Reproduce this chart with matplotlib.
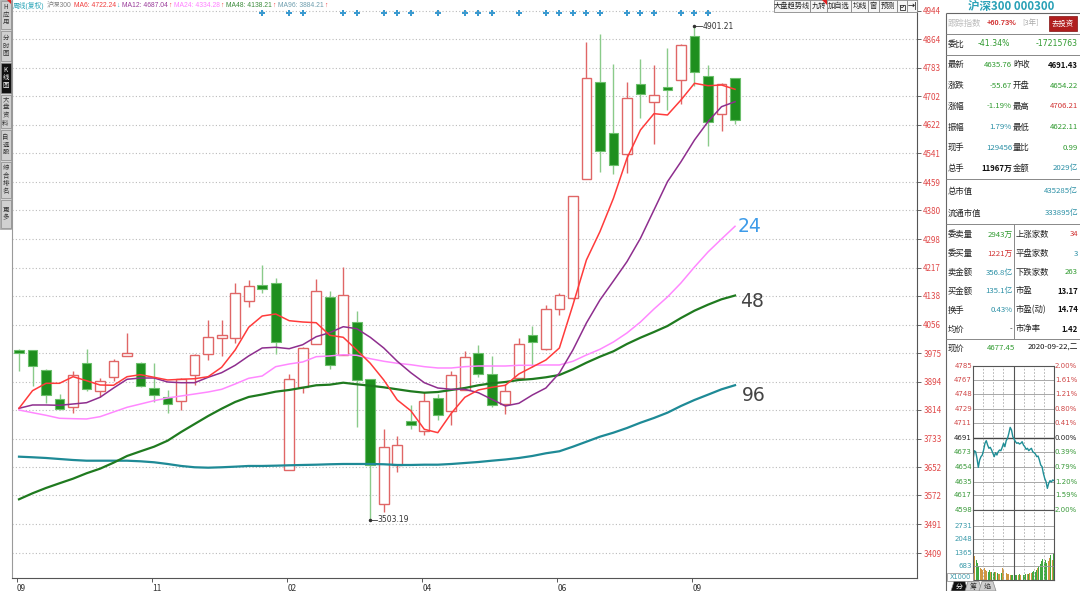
import matplotlib
matplotlib.use('Agg')
import matplotlib.pyplot as plt
from matplotlib.patches import Rectangle, Polygon, Arc
import numpy as np

plt.rcParams['font.family'] = ['Noto Sans CJK SC', 'DejaVu Sans']

# ---------------- data: 沪深300 weekly candles ----------------
opens  = [3984, 3984, 3927, 3844, 3822, 3946, 3867, 3907, 3967, 3948,
          3876, 3852, 3839, 3912, 3973, 4018, 4018, 4122, 4169, 4173,
          3644, 3878, 4001, 4133, 3971, 4063, 3901, 3548, 3659, 3782,
          3754, 3848, 3810, 3871, 3976, 3916, 3831, 3905, 4026, 3986,
          4099, 4130, 4468, 4744, 4598, 4538, 4738, 4685, 4729, 4749,
          4872, 4759, 4653, 4753]
highs  = [3987, 3984, 3931, 3859, 3924, 3986, 3905, 3958, 4033, 3950,
          3948, 3871, 3905, 3973, 4069, 4069, 4175, 4182, 4225, 4188,
          3916, 3993, 4184, 4150, 4218, 4094, 3901, 3759, 3740, 3827,
          3865, 3859, 3924, 3980, 3999, 3967, 3888, 4018, 4052, 4112,
          4145, 4421, 4857, 4880, 4793, 4742, 4808, 4791, 4840, 4851,
          4901.21, 4791, 4740, 4753]
lows   = [3925, 3883, 3835, 3815, 3806, 3867, 3850, 3897, 3967, 3878,
          3837, 3806, 3814, 3886, 3956, 3967, 4005, 4105, 4144, 3973,
          3644, 3863, 4001, 3931, 3971, 3767, 3503.19, 3525, 3638, 3761,
          3742, 3786, 3771, 3871, 3908, 3823, 3803, 3905, 3937, 3984,
          4084, 4128, 4468, 4489, 4482, 4485, 4640, 4568, 4664, 4681,
          4731, 4561, 4604, 4625]
closes = [3975, 3939, 3856, 3816, 3912, 3873, 3897, 3954, 3975, 3882,
          3856, 3831, 3903, 3969, 4020, 4026, 4146, 4165, 4158, 4007,
          3901, 3990, 4152, 3942, 4141, 3899, 3657, 3710, 3716, 3772,
          3840, 3799, 3914, 3965, 3916, 3827, 3867, 4001, 4007, 4101,
          4141, 4421, 4753, 4548, 4508, 4697, 4710, 4706, 4721, 4848,
          4772, 4630, 4738, 4635.76]

ma6 = [3818.8, 3868.7, 3889.6, 3889.6, 3908.3, 3897.0, 3884.8, 3884.0, 3908.3, 3914.0,
       3906.6, 3899.0, 3901.0, 3902.6, 3908.3, 3935.0, 3984.0, 4048.2, 4080.2, 4085.9,
       4066.9, 4063.2, 4061.2, 4025.6, 4019.9, 3984.0, 3946.3, 3899.0, 3842.4, 3812.0,
       3759.4, 3749.8, 3804.7, 3850.0, 3870.7, 3878.3, 3884.0, 3916.0, 3935.8, 3955.6,
       3989.6, 4111.4, 4238.8, 4319.0, 4413.6, 4526.8, 4607.0, 4653.2, 4649.5, 4692.0,
       4739.2, 4732.4, 4734.4, 4722.24]
ma12 = [3818.8, 3828.2, 3828.2, 3827.3, 3831.0, 3834.7, 3850.0, 3876.3, 3901.0, 3904.6,
        3904.6, 3893.3, 3891.3, 3891.3, 3906.6, 3919.7, 3940.6, 3967.0, 3989.6, 3991.6,
        3987.6, 3998.9, 4021.6, 4032.9, 4049.9, 4044.3, 4019.9, 3989.6, 3952.0, 3919.7,
        3891.3, 3876.3, 3872.6, 3872.6, 3863.0, 3844.3, 3825.4, 3833.0, 3856.5, 3876.3,
        3918.8, 3984.0, 4060.4, 4125.5, 4179.4, 4234.0, 4300.3, 4380.4, 4460.6, 4517.2,
        4578.7, 4630.5, 4673.0, 4687.04]
ma24 = [3814.0, 3806.4, 3799.0, 3790.5, 3789.4, 3788.6, 3795.1, 3808.4, 3821.7, 3831.0,
        3840.4, 3848.0, 3853.7, 3859.3, 3865.0, 3872.6, 3887.7, 3903.8, 3910.3, 3936.7,
        3944.3, 3950.0, 3965.0, 3967.0, 3970.6, 3968.9, 3959.3, 3952.0, 3946.3, 3942.3,
        3936.7, 3933.0, 3933.0, 3936.7, 3938.6, 3938.6, 3938.6, 3940.6, 3940.6, 3941.5,
        3941.5, 3952.0, 3969.8, 3985.9, 4006.6, 4032.1, 4063.2, 4100.0, 4134.1, 4173.7,
        4219.0, 4261.5, 4298.3, 4334.28]
ma48 = [3561.1, 3578.1, 3593.2, 3606.5, 3619.5, 3634.8, 3647.8, 3664.8, 3683.8, 3697.1,
        3710.1, 3727.1, 3751.7, 3774.4, 3797.0, 3817.7, 3836.7, 3850.9, 3857.9, 3865.9,
        3870.7, 3877.2, 3884.0, 3885.7, 3891.3, 3886.8, 3882.8, 3878.3, 3872.6, 3867.0,
        3863.0, 3865.0, 3870.7, 3876.3, 3884.0, 3889.6, 3893.3, 3899.0, 3901.8, 3906.6,
        3913.2, 3929.3, 3948.0, 3965.0, 3980.3, 4001.0, 4018.8, 4034.9, 4051.9, 4074.6,
        4095.3, 4112.3, 4127.5, 4138.21]
ma96 = [3681.8, 3680.1, 3678.1, 3675.2, 3672.4, 3670.4, 3670.4, 3670.4, 3670.4, 3668.7,
        3665.9, 3661.1, 3655.5, 3651.8, 3650.6, 3651.8, 3653.5, 3655.5, 3655.5, 3656.3,
        3657.4, 3658.3, 3659.1, 3660.3, 3661.1, 3661.1, 3661.1, 3660.3, 3658.3, 3658.3,
        3659.1, 3659.1, 3661.1, 3663.9, 3666.7, 3670.4, 3673.8, 3678.1, 3683.8, 3691.4,
        3697.1, 3710.1, 3724.2, 3738.4, 3749.8, 3763.0, 3778.0, 3791.4, 3806.4, 3825.4,
        3842.4, 3857.4, 3872.6, 3884.21]

signal_idx = [18, 20, 21, 24, 25, 27, 28, 29, 31, 33, 34, 35, 37, 39, 40, 41,
              42, 43, 45, 46, 47, 49, 50, 51]

y_ticks = [4944, 4864, 4783, 4702, 4622, 4541, 4459, 4380, 4298, 4217, 4138,
           4056, 3975, 3894, 3814, 3733, 3652, 3572, 3491, 3409]
month_labels = ['09', '11', '02', '04', '06', '09']
month_start = [0, 10, 20, 30, 40, 50]

# intraday (分时) data
intraday = [4662.9, 4675.0, 4673.7, 4665.1, 4653.4, 4662.9, 4667.3, 4669.4, 4675.9, 4684.6,
            4688.0, 4682.4, 4678.1, 4679.4, 4675.9, 4671.6, 4667.3, 4672.4, 4669.4, 4673.7,
            4675.9, 4675.0, 4679.4, 4684.6, 4680.2, 4688.0, 4691.1, 4697.6, 4705.3, 4701.9,
            4693.2, 4689.8, 4686.7, 4684.6, 4685.4, 4683.7, 4684.6, 4686.7, 4682.4, 4680.2,
            4676.8, 4678.1, 4675.0, 4676.8, 4678.1, 4673.7, 4672.4, 4670.7, 4667.3, 4668.1,
            4662.9, 4656.4, 4654.3, 4645.6, 4639.1, 4634.8, 4626.1, 4632.6, 4636.1, 4634.4,
            4637.0, 4636.1]
intraday_vol = [1450, 1200, 1000, 850, 700, 620, 560, 520, 600, 480,
                450, 420, 500, 380, 400, 360, 420, 380, 350, 320,
                300, 340, 600, 520, 400, 330, 280, 300, 260, 240,
                250, 230, 260, 240, 250, 280, 240, 230, 260, 250,
                300, 280, 320, 360, 340, 400, 450, 420, 520, 600,
                700, 800, 950, 1050, 900, 1000, 850, 950, 1100, 1250,
                1000, 1350]
mini_price_levels = [4785, 4767, 4748, 4729, 4711, 4691, 4673, 4654, 4635, 4617, 4598]
mini_pct_labels = ['2.00%', '1.61%', '1.21%', '0.80%', '0.41%', '0.00%',
                   '0.39%', '0.79%', '1.20%', '1.59%', '2.00%']
mini_vol_levels = [2731, 2048, 1365, 683]

legend_parts = [
    ('周线(复权)', '#2AA5B8', 2.5), ('沪深300', '#808080', 2.5),
    ('MA6: 4722.24', '#F03C3C', 0.3), ('↓', '#30B0C0', 2.5),
    ('MA12: 4687.04', '#9A3C9A', 0.3), ('↑', '#F03C3C', 2.5),
    ('MA24: 4334.28', '#FF7FFF', 0.3), ('↑', '#F03C3C', 2.5),
    ('MA48: 4138.21', '#3C8C3C', 0.3), ('↑', '#F03C3C', 2.5),
    ('MA96: 3884.21', '#6E9EAE', 0.3), ('↑', '#F03C3C', 2.5),
]

# ---------------- figure ----------------
W, H = 1080, 591
fig = plt.figure(figsize=(W / 100, H / 100), dpi=100)
fig.patch.set_facecolor('white')


def ax_px(l, t, r, b, **kw):
    return fig.add_axes([l / W, 1 - b / H, (r - l) / W, (b - t) / H], **kw)


RED_C = '#E06666'
GRN_F = '#1E8F1E'
GRN_E = '#6CBF6C'

# ---------------- main K-line axes ----------------
ax = ax_px(12, 0, 917, 578)
ax.set_xlim(-0.518, 66.47)
ax.set_ylim(3338.2, 4975.15)
ax.spines['top'].set_visible(False)
ax.spines['left'].set_color('#9a9a9a')
ax.spines['right'].set_color('#555555')
ax.spines['bottom'].set_color('#555555')
ax.yaxis.tick_right()
ax.set_yticks(y_ticks)
ax.set_yticklabels([str(v) for v in y_ticks])
ax.tick_params(axis='y', length=3, width=0.7, color='#666', labelsize=5.8,
               labelcolor='#E04848', pad=1.5)
ax.grid(axis='y', color='#bbbbbb', linestyle=(0, (1, 2)), lw=0.8)
xt = [max(m - 0.15, -0.5) for m in month_start]
ax.set_xticks(xt)
ax.set_xticklabels(month_labels, ha='left')
ax.tick_params(axis='x', length=3, width=0.7, color='#555', labelsize=6,
               labelcolor='#333', pad=1)

n = len(opens)
xs = np.arange(n)
for i in range(n):
    o, h, l, c = opens[i], highs[i], lows[i], closes[i]
    up = c >= o
    bottom = min(o, c)
    height = max(abs(c - o), 3.0)
    if up:
        ax.vlines(i, l, h, color=RED_C, lw=1.0, zorder=3)
        ax.add_patch(Rectangle((i - 0.36, bottom), 0.72, height, facecolor='white',
                               edgecolor=RED_C, lw=1.0, zorder=4))
    else:
        ax.vlines(i, l, h, color='#8ACB8A', lw=1.0, zorder=3)
        ax.add_patch(Rectangle((i - 0.36, bottom), 0.72, height, facecolor=GRN_F,
                               edgecolor=GRN_E, lw=0.8, zorder=4))

ax.plot(xs, ma96, color='#1E8A96', lw=1.6, zorder=5)
ax.plot(xs, ma48, color='#1F7A1F', lw=1.6, zorder=5)
ax.plot(xs, ma24, color='#FF88FF', lw=1.1, zorder=5)
ax.plot(xs, ma12, color='#8E2E8E', lw=1.1, zorder=6)
ax.plot(xs, ma6, color='#FF3B3B', lw=1.1, zorder=6)

ax.annotate('24', xy=(xs[-1], ma24[-1]), xytext=(2, 0), textcoords='offset points',
            color='#3D9BE9', fontsize=13.5, va='center', ha='left', family='DejaVu Sans')
ax.annotate('48', xy=(xs[-1], ma48[-1]), xytext=(3.5, -4.5), textcoords='offset points',
            color='#444444', fontsize=13.5, va='center', ha='left', family='DejaVu Sans')
ax.annotate('96', xy=(xs[-1], ma96[-1]), xytext=(5, -7.5), textcoords='offset points',
            color='#444444', fontsize=13.5, va='center', ha='left', family='DejaVu Sans')

# highest / lowest marks
hi_i = int(np.argmax(highs))
lo_i = int(np.argmin(lows))
ax.plot([hi_i, hi_i + 0.55], [highs[hi_i]] * 2, color='#333', lw=0.6, zorder=7)
ax.plot([hi_i], [highs[hi_i]], 'o', ms=1.5, color='#333', zorder=7)
ax.text(hi_i + 0.6, highs[hi_i], f'{highs[hi_i]:.2f}', fontsize=5.5, color='#333',
        va='center', ha='left', family='DejaVu Sans')
ax.plot([lo_i, lo_i + 0.5], [lows[lo_i]] * 2, color='#333', lw=0.6, zorder=7)
ax.plot([lo_i], [lows[lo_i]], 'o', ms=1.5, color='#333', zorder=7)
ax.text(lo_i + 0.55, lows[lo_i], f'{lows[lo_i]:.2f}', fontsize=5.5, color='#333',
        va='center', ha='left', family='DejaVu Sans')

# signal markers at top
ax.plot(signal_idx, [1 - 13 / 578] * len(signal_idx), 'P', ms=4.2, color='#3A9AD0',
        markeredgewidth=0, transform=ax.get_xaxis_transform(), clip_on=False, zorder=7)

# ---------------- mini intraday chart ----------------
ax2 = ax_px(973, 366, 1054, 510)
ax2.set_xlim(0, len(intraday) - 1)
ax2.set_ylim(min(mini_price_levels), max(mini_price_levels))
ax2.set_xticks([]); ax2.set_yticks([])
for s in ax2.spines.values():
    s.set_color('#555'); s.set_linewidth(0.8)
for lv in mini_price_levels:
    if lv == 4691:
        ax2.axhline(lv, color='#444', lw=1.0)
    else:
        ax2.axhline(lv, color='#9a9a9a', lw=0.6)
for k in range(1, 8):
    fx = (len(intraday) - 1) * k / 8
    if k == 4:
        ax2.axvline(fx, color='#555', lw=0.8)
    else:
        ax2.axvline(fx, color='#aaaaaa', lw=0.6, linestyle=(0, (2, 2)))
ax2.plot(np.arange(len(intraday)), intraday, color='#1F8E96', lw=1.0)
for lv, pl in zip(mini_price_levels, mini_pct_labels):
    col = '#D04848' if lv > 4691 else ('#222' if lv == 4691 else '#3A9A3A')
    ax2.text(-0.012, lv, str(lv), transform=ax2.get_yaxis_transform(), ha='right',
             va='center', fontsize=5, color=col, family='DejaVu Sans')
    ax2.text(1.012, lv, pl, transform=ax2.get_yaxis_transform(), ha='left',
             va='center', fontsize=5, color=col, family='DejaVu Sans')

ax3 = ax_px(973, 510, 1054, 580)
ax3.set_xlim(-0.5, len(intraday) - 0.5)
ax3.set_ylim(0, 3533)
ax3.set_xticks([]); ax3.set_yticks([])
for s in ax3.spines.values():
    s.set_color('#555'); s.set_linewidth(0.8)
for lv in mini_vol_levels:
    ax3.axhline(lv, color='#9a9a9a', lw=0.6)
    ax3.text(-0.012, lv, str(lv), transform=ax3.get_yaxis_transform(), ha='right',
             va='center', fontsize=5, color='#3A9AAA', family='DejaVu Sans')
for k in range(1, 8):
    fx = (len(intraday) - 0.5) * k / 8 - 0.25
    if k == 4:
        ax3.axvline(fx, color='#555', lw=0.8)
    else:
        ax3.axvline(fx, color='#aaaaaa', lw=0.6, linestyle=(0, (2, 2)))
vcols = ['#C8841E' if (i == 0 or intraday[i] >= intraday[i - 1]) else '#1E9A1E'
         for i in range(len(intraday))]
ax3.bar(np.arange(len(intraday_vol)), intraday_vol, width=0.75, color=vcols, alpha=0.85)

# ---------------- overlay (pixel coordinates) ----------------
ov = fig.add_axes([0, 0, 1, 1], zorder=20)
ov.set_xlim(0, W); ov.set_ylim(H, 0); ov.axis('off')
ov.patch.set_alpha(0)


def T(x, y, s, color='#222', size=6, ha='left', va='center', weight='normal', **kw):
    return ov.text(x, y, s, color=color, fontsize=size, ha=ha, va=va, fontweight=weight, **kw)


def L(xx, yy, color='#777', lw=0.8, **kw):
    ov.plot(xx, yy, color=color, lw=lw, solid_capstyle='butt', **kw)


# top legend line, laid out sequentially so nothing overlaps
renderer = fig.canvas.get_renderer()
xcur = 12.5
for s, c, gap in legend_parts:
    t = T(xcur, 5.5, s, color=c, size=4.9, family=['Liberation Sans', 'Noto Sans CJK SC'])
    bb = t.get_window_extent(renderer=renderer)
    xcur += bb.width + gap

# toolbar buttons (top right)
buttons = [('大盘趋势线', 774, 810), ('九转', 810, 827), ('加自选', 827, 851),
           ('均线', 851, 868), ('窗', 868, 879), ('预测', 879, 897), ('', 897, 907),
           ('→|', 907, 917)]
for lab, x0, x1 in buttons:
    ov.add_patch(Rectangle((x0, 0), x1 - x0, 11.5, facecolor='#F6F6F6',
                           edgecolor='#888', lw=0.6))
    if lab:
        T((x0 + x1) / 2, 6, lab, size=5.2, ha='center', color='#222',
          weight='bold' if lab == '→|' else 'normal')
ov.add_patch(Polygon([(822, 0), (827, 0), (827, 5)], closed=True, facecolor='#E02020'))
ov.add_patch(Rectangle((899.5, 5), 5, 4.5, facecolor='none', edgecolor='#333', lw=0.6))
ov.add_patch(Arc((902, 5), 3.5, 5, theta1=0, theta2=180, edgecolor='#333', lw=0.6))

# left toolbar
ov.add_patch(Rectangle((0, 0), 11, 229, facecolor='#D6D6D6', edgecolor='#999', lw=0.5))
tabs = [('H\n应\n用', 0, 29, False), ('分\n时\n图', 30, 61, False),
        ('K\n线\n图', 62, 93, True), ('大\n盘\n资\n料', 94, 128, False),
        ('自\n选\n股', 129, 160, False), ('综\n合\n排\n名', 161, 198, False),
        ('更\n多', 199, 228, False)]
for lab, y0, y1, sel in tabs:
    ov.add_patch(Rectangle((0.5, y0 + 0.5), 10, y1 - y0 - 1,
                           facecolor='#111' if sel else '#D0D0D0',
                           edgecolor='#888', lw=0.5))
    T(5.5, (y0 + y1) / 2, lab, size=4.6, ha='center', color='white' if sel else '#333',
      linespacing=0.95)
ov.add_patch(Polygon([(7, 0), (11, 0), (11, 4)], closed=True, facecolor='#E02020'))

# ---------------- right info panel ----------------
G = '#2F9A2F'; R = '#D23434'; C = '#2A8FA5'; K = '#111111'
T(1011, 6.5, '沪深300 000300', color='#2AA1B7', size=8.3, ha='center', weight='bold')
L([946, 946], [13, 591], color='#666')
L([946, 1080], [13, 13], color='#666')
for yy in [33.5, 55, 178.5, 224, 338.5]:
    L([946, 1080], [yy, yy], color='#888', lw=0.7)
L([1014, 1014], [224, 338.5], color='#888', lw=0.7)

T(948, 23.5, '跟踪指数', color='#BBBBBB', size=6)
T(987, 23.5, '+60.73%', color=R, size=5.4, weight='bold', family='Liberation Sans')
T(1022, 23.5, '[3年]', color='#AAAAAA', size=5.4)
ov.add_patch(Rectangle((1049, 16), 28, 15, facecolor='#B01E1E', edgecolor='#801010', lw=0.5))
T(1063, 23.5, '去投资', color='white', size=5.3, ha='center')

T(948, 44, '委比', size=6)
T(1010, 44, '-41.34%', color=G, size=5.6, ha='right', family='DejaVu Sans')
T(1078, 44, '-17215763', color=G, size=5.6, ha='right', family='DejaVu Sans')

rows1 = [
    (65, '最新', '4635.76', G, '昨收', '4691.43', K),
    (85.5, '涨跌', '-55.67', G, '开盘', '4654.22', G),
    (106, '涨幅', '-1.19%', G, '最高', '4706.21', R),
    (127, '振幅', '1.79%', C, '最低', '4622.11', G),
    (147.5, '现手', '129456', C, '量比', '0.99', G),
    (168, '总手', '11967万', K, '金额', '2029亿', C),
]
for yy, l1, v1, c1, l2, v2, c2 in rows1:
    T(948, yy, l1, size=6)
    T(1012, yy, v1, color=c1, size=5.6, ha='right', weight='bold' if c1 == K else 'normal')
    T(1013, yy, l2, size=6)
    T(1078, yy, v2, color=c2, size=5.6, ha='right', weight='bold' if c2 == K else 'normal')

T(948, 191.5, '总市值', size=6)
T(1078, 191.5, '435285亿', color=C, size=5.6, ha='right')
T(948, 213, '流通市值', size=6)
T(1078, 213, '333895亿', color=C, size=5.6, ha='right')

rows2 = [
    (234.5, '委卖量', '2943万', G, '上涨家数', '34', R),
    (253.5, '委买量', '1221万', R, '平盘家数', '3', C),
    (272.5, '卖金额', '356.8亿', C, '下跌家数', '263', G),
    (291, '买金额', '135.1亿', C, '市盈', '13.17', K),
    (310, '换手', '0.43%', C, '市盈(动)', '14.74', K),
    (329, '均价', '-', K, '市净率', '1.42', K),
]
for yy, l1, v1, c1, l2, v2, c2 in rows2:
    T(948, yy, l1, size=6)
    T(1012.5, yy, v1, color=c1, size=5.6, ha='right')
    T(1015.5, yy, l2, size=6)
    T(1078, yy, v2, color=c2, size=5.6, ha='right', weight='bold' if c2 == K else 'normal')

T(948, 348, '现价', size=6)
T(987, 348, '4677.45', color=G, size=5.6)
T(1078, 348, '2020-09-22,二', color=K, size=5.6, ha='right')

# X1000 box
ov.add_patch(Rectangle((947, 572.5), 26, 8.5, facecolor='white', edgecolor='#888', lw=0.5))
T(960, 577, 'X1000', color='#3A9AAA', size=4.8, ha='center', family='DejaVu Sans')

# bottom tabs
tab_defs = [('分', 951, True), ('筹', 965, False), ('焰', 979, False)]
for lab, x0, sel in tab_defs:
    ov.add_patch(Polygon([(x0, 591), (x0 + 3, 581.5), (x0 + 14, 581.5), (x0 + 17, 591)],
                         closed=True, facecolor='#111' if sel else '#CFCFCF',
                         edgecolor='#888', lw=0.5))
    T(x0 + 8.5, 586.5, lab, size=5, ha='center', color='white' if sel else '#333')

fig.savefig('out.png', dpi=100, facecolor='white')
